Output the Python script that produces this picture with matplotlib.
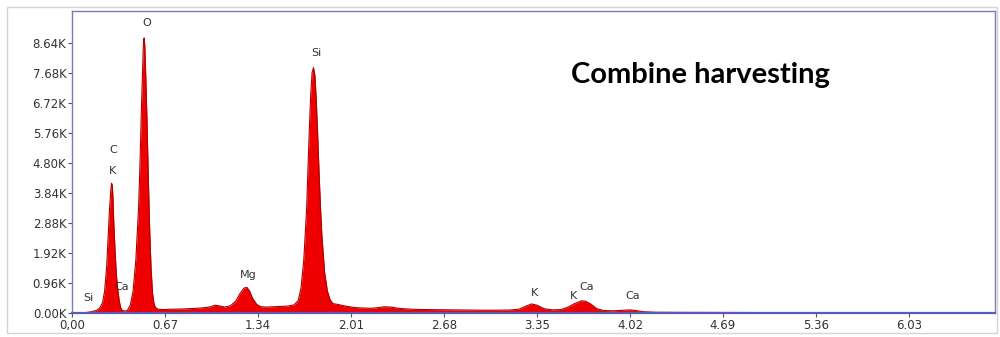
import matplotlib
matplotlib.use("Agg")
import matplotlib.pyplot as plt
from matplotlib.patches import Rectangle

# EDS spectrum: energy (keV) and counts
energy = [0.00, 0.06, 0.10, 0.14, 0.18, 0.20, 0.22, 0.235, 0.25, 0.26, 0.27, 0.28,
          0.285, 0.29, 0.295, 0.30, 0.31, 0.32, 0.33, 0.34, 0.35, 0.36, 0.38, 0.40,
          0.42, 0.44, 0.46, 0.48, 0.49, 0.50, 0.51, 0.515, 0.52, 0.525, 0.53, 0.54,
          0.55, 0.56, 0.57, 0.58, 0.59, 0.60, 0.62, 0.66, 0.70, 0.75, 0.80, 0.85,
          0.90, 0.95, 1.00, 1.03, 1.06, 1.10, 1.14, 1.18, 1.21, 1.24, 1.26, 1.28,
          1.30, 1.33, 1.36, 1.40, 1.45, 1.50, 1.55, 1.60, 1.63, 1.65, 1.67, 1.69,
          1.70, 1.71, 1.72, 1.73, 1.74, 1.75, 1.76, 1.77, 1.78, 1.79, 1.80, 1.82,
          1.84, 1.86, 1.88, 1.92, 1.96, 2.00, 2.05, 2.10, 2.15, 2.20, 2.25, 2.30,
          2.35, 2.45, 2.55, 2.65, 2.75, 2.85, 2.95, 3.05, 3.15, 3.22, 3.27, 3.31,
          3.35, 3.40, 3.46, 3.52, 3.57, 3.62, 3.67, 3.70, 3.74, 3.78, 3.83, 3.90,
          3.98, 4.02, 4.06, 4.12, 4.20, 4.40, 4.80, 5.20, 5.60, 6.00, 6.40, 6.65]
counts = [0, 5, 15, 40, 90, 160, 330, 700, 1500, 2400, 3300, 3950,
          4150, 4100, 3700, 3000, 2000, 1200, 750, 400, 180, 90, 60, 90,
          250, 700, 1700, 3400, 4800, 6500, 8000, 8700, 8800, 8500, 7800, 6200,
          4300, 2600, 1400, 650, 320, 180, 120, 110, 120, 125, 130, 140,
          150, 170, 200, 250, 230, 190, 230, 380, 620, 800, 820, 700,
          480, 280, 200, 190, 200, 210, 220, 260, 400, 800, 1700, 3300,
          4600, 5900, 7000, 7700, 7850, 7600, 6800, 5700, 4500, 3400, 2500, 1300,
          700, 420, 300, 270, 230, 200, 170, 160, 150, 170, 200, 190,
          150, 120, 110, 105, 100, 95, 90, 90, 95, 120, 220, 290,
          250, 140, 100, 110, 180, 300, 390, 380, 280, 140, 80, 70,
          90, 100, 80, 40, 25, 20, 15, 12, 10, 8, 6, 5]

# element labels: (text, energy, counts)
peak_names = ["O", "Si", "C", "K", "Ca", "Si", "Mg", "K", "K", "Ca", "Ca"]
peak_x = [0.54, 1.76, 0.295, 0.295, 0.36, 0.115, 1.27, 3.33, 3.61, 3.71, 4.04]
peak_y = [9280, 8320, 5200, 4540, 830, 480, 1200, 640, 540, 830, 540]

xticks = [0.00, 0.67, 1.34, 2.01, 2.68, 3.35, 4.02, 4.69, 5.36, 6.03]
xtick_labels = ["0,00", "0.67", "1.34", "2.01", "2.68", "3.35", "4.02", "4.69", "5.36", "6.03"]
yticks = [0, 960, 1920, 2880, 3840, 4800, 5760, 6720, 7680, 8640]
ytick_labels = ["0.00K", "0.96K", "1.92K", "2.88K", "3.84K", "4.80K",
                "5.76K", "6.72K", "7.68K", "8.64K"]

fig = plt.figure(figsize=(10, 3.37), dpi=100)
fig.patches.append(Rectangle((0.007, 0.012), 0.99, 0.968, transform=fig.transFigure,
                             fill=False, edgecolor="#d4d4d4", linewidth=1))
ax = fig.add_axes([0.072, 0.0712, 0.923, 0.896])

ax.fill_between(energy, counts, 0, color="#ee0000", linewidth=0)
ax.plot(energy, counts, color="#b00000", linewidth=0.8)

for name, x, y in zip(peak_names, peak_x, peak_y):
    ax.text(x, y, name, fontsize=8, color="#333333", ha="center", va="center")

ax.set_xlim(0, 6.65)
ax.set_ylim(0, 9660)
ax.set_xticks(xticks)
ax.set_xticklabels(xtick_labels)
ax.set_yticks(yticks)
ax.set_yticklabels(ytick_labels)
ax.tick_params(direction="out", length=3, width=0.8, colors="#555555",
               labelsize=8.5, labelcolor="#333333", pad=1)

for side in ["left", "top", "right"]:
    ax.spines[side].set_color("#7a7ab8")
    ax.spines[side].set_linewidth(1)
ax.spines["bottom"].set_color("#5a5ab8")
ax.spines["bottom"].set_linewidth(1.6)

fig.text(0.70, 0.777, "Combine harvesting", fontsize=21, fontweight="bold",
         family=["Lato", "DejaVu Sans"], ha="center", va="center", color="black")

fig.savefig("out.png", dpi=100)
